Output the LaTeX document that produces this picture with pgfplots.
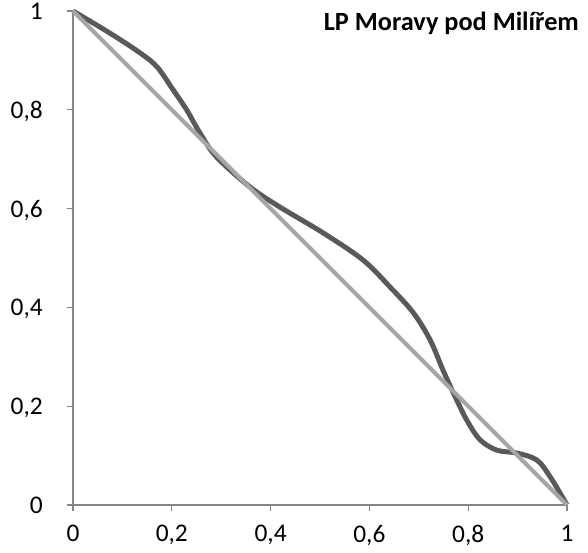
\documentclass[border=0pt]{standalone}
\usepackage{fontspec}
\setmainfont{Carlito}
\usepackage{pgfplots}
\pgfplotsset{compat=1.18}
\usetikzlibrary{calc}
\definecolor{curvedark}{RGB}{89,89,89}
\definecolor{diaglight}{RGB}{166,166,166}
\definecolor{axisgray}{RGB}{134,134,134}

\begin{document}
\begin{tikzpicture}
\begin{axis}[
  name=ax,
  scale only axis,
  width=494bp, height=494bp,
  xmin=0, xmax=1, ymin=0, ymax=1,
  axis x line=bottom, axis y line=left,
  axis line style={draw=axisgray, line width=1.2bp, -},
  tick style={draw=axisgray, line width=1.2bp},
  tick align=outside,
  major tick length=6bp,
  xtick={0,0.2,...,1.0}, ytick={0,0.2,...,1.0},
  /pgf/number format/use comma,
  /pgf/number format/assume math mode=true,
  tick label style={font=\fontsize{25.5}{30}\selectfont, inner sep=0pt, text depth=0pt},
  xticklabel style={anchor=north, yshift=-14bp},
  yticklabel style={anchor=east, xshift=-24bp},
  clip=false,
]
% dark curve
\addplot[curvedark, line width=5bp, smooth, tension=0.55] coordinates {
  (0,1) (0.075,0.955) (0.136,0.915) (0.17,0.887) (0.203,0.84)
  (0.23,0.80) (0.257,0.753) (0.29,0.705) (0.358,0.644) (0.419,0.603)
  (0.506,0.551) (0.587,0.496) (0.642,0.441) (0.689,0.389) (0.723,0.334)
  (0.749,0.273) (0.77,0.227) (0.797,0.172) (0.824,0.132) (0.858,0.111)
  (0.899,0.105) (0.939,0.091) (0.966,0.057) (1,0)
};
% diagonal
\addplot[diaglight, line width=4bp] coordinates {(0,1) (1,0)};
\node[anchor=base east, inner sep=0pt, font=\bfseries\fontsize{26.4}{31}\selectfont]
  at (axis cs:1.0243,0.9615) {LP Moravy pod Milířem};
\end{axis}
\pgfresetboundingbox
\path[use as bounding box] ($(ax.south west)+(-73bp,-48bp)$) rectangle ($(ax.north east)+(21bp,11bp)$);
\end{tikzpicture}
\end{document}
